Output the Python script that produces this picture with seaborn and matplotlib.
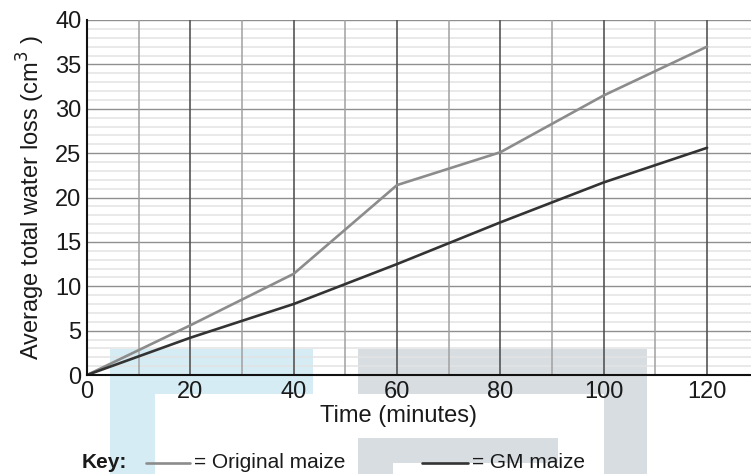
import numpy as np
import pandas as pd
import matplotlib
matplotlib.use("Agg")
import matplotlib.pyplot as plt
import seaborn as sns
from matplotlib.patches import Rectangle
from matplotlib.lines import Line2D

time_min = [0, 20, 40, 60, 80, 100, 120]
original_maize = [0, 5.6, 11.4, 21.4, 25.1, 31.5, 37.0]
gm_maize = [0, 4.2, 8.0, 12.5, 17.2, 21.7, 25.6]
x_ticks = [0, 20, 40, 60, 80, 100, 120]
y_ticks = [0, 5, 10, 15, 20, 25, 30, 35, 40]

sns.set_style("white")
plt.rcParams['font.family'] = ['Liberation Sans', 'DejaVu Sans']

df = pd.DataFrame({
    "Time": time_min * 2,
    "Loss": original_maize + gm_maize,
    "Variety": ["Original maize"] * len(time_min) + ["GM maize"] * len(time_min),
})

W, H = 751, 474
fig = plt.figure(figsize=(W / 100, H / 100), dpi=100)

# decorative background shapes (pixel coords, y from top)
def prect(x0, y0, x1, y1, color):
    fig.patches.append(Rectangle((x0 / W, 1 - y1 / H), (x1 - x0) / W, (y1 - y0) / H,
                                 transform=fig.transFigure, facecolor=color,
                                 edgecolor='none', zorder=0))

blue = '#d5ecf4'
grey = '#d8dde1'
prect(110, 349, 313, 394, blue)
prect(110, 349, 155, 474, blue)
prect(358, 349, 647, 394, grey)
prect(604, 349, 647, 474, grey)
prect(358, 438, 558, 463, grey)
prect(358, 438, 393, 474, grey)

ax = fig.add_axes([87 / W, 1 - 375 / H, 1 - 87 / W, (375 - 20) / H])
ax.set_facecolor('none')
ax.set_zorder(1)

# grid
for v in range(1, 41):
    if v % 5 == 0:
        continue
    ax.axhline(v, color='#e3e3e3', lw=1.1, zorder=1)
for v in range(5, 41, 5):
    ax.axhline(v, color='#8f8f8f', lw=1.0, zorder=2)
for v in range(10, 130, 20):
    ax.axvline(v, color='#a0a0a0', lw=1.1, zorder=2)
for v in range(20, 130, 20):
    ax.axvline(v, color='#555555', lw=1.2, zorder=2)

sns.lineplot(data=df, x="Time", y="Loss", hue="Variety",
             palette={"Original maize": "#8c8c8c", "GM maize": "#333333"},
             linewidth=1.9, ax=ax, legend=False, zorder=3)

ax.set_xlim(0, 128.5)
ax.set_ylim(0, 40)
ax.set_xticks(x_ticks)
ax.set_yticks(y_ticks)
ax.tick_params(axis='both', length=0, labelsize=17, colors='#1a1a1a')
ax.tick_params(axis='x', pad=4)
ax.tick_params(axis='y', pad=4)
for s in ['top', 'right']:
    ax.spines[s].set_visible(False)
for s in ['left', 'bottom']:
    ax.spines[s].set_color('#111111')
    ax.spines[s].set_linewidth(1.5)
    ax.spines[s].set_zorder(4)

ax.set_xlabel("Time (minutes)", fontsize=17, labelpad=4, color='#1a1a1a')
ax.xaxis.set_label_coords((398 - 87) / 664, -0.085)
ax.set_ylabel("Average total water loss (cm$^3$ )", fontsize=17, labelpad=6, color='#1a1a1a')

# key
ky = 1 - 463 / H
fig.text(82 / W, ky, "Key:", fontsize=15, fontweight='bold', va='center', ha='left', color='#1a1a1a')
fig.add_artist(Line2D([146 / W, 190 / W], [ky, ky], color='#8c8c8c', lw=1.9, transform=fig.transFigure))
fig.text(194 / W, ky, "= Original maize", fontsize=15, va='center', ha='left', color='#1a1a1a')
fig.add_artist(Line2D([422 / W, 468 / W], [ky, ky], color='#333333', lw=1.9, transform=fig.transFigure))
fig.text(472 / W, ky, "= GM maize", fontsize=15, va='center', ha='left', color='#1a1a1a')

fig.savefig("out.png", dpi=100)
